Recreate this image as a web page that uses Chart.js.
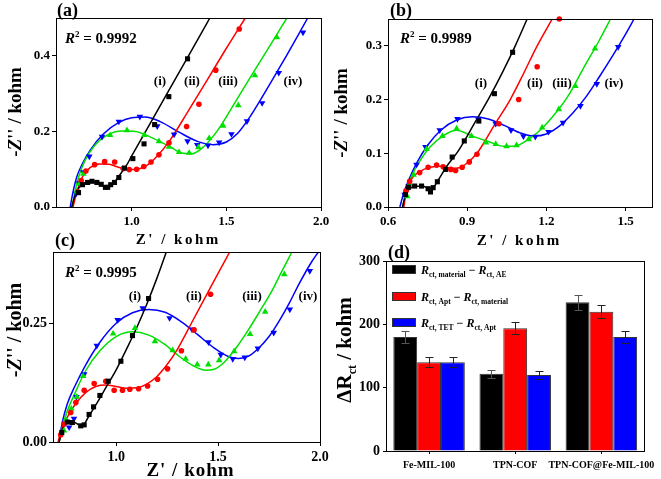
<!DOCTYPE html>
<html><head><meta charset="utf-8">
<script src="https://cdn.jsdelivr.net/npm/chart.js@4.4.0/dist/chart.umd.min.js"></script>
<style>
html,body{margin:0;padding:0;background:#fff;}
#wrap{position:relative;width:661px;height:479px;background:#fff;}
canvas{position:absolute;left:0;top:0;}
</style></head><body><div id="wrap">
<canvas id="ca" width="661" height="479"></canvas>
<canvas id="cb" width="661" height="479"></canvas>
<canvas id="cc" width="661" height="479"></canvas>
<canvas id="cd" width="661" height="479"></canvas>
</div>
<script>
// ---------- Panel (a) data ----------
const aPtsI = [[0.719,0.038],[0.740,0.059],[0.767,0.065],[0.790,0.068],[0.816,0.065],[0.839,0.060],[0.861,0.052],[0.873,0.052],[0.889,0.059],[0.909,0.065],[0.932,0.078],[0.962,0.103],[1.006,0.128],[1.065,0.167],[1.121,0.218],[1.196,0.292],[1.295,0.392]];
const aFitI = [[0.683,0],[0.70,0.03],[0.72,0.05],[0.75,0.063],[0.79,0.066],[0.83,0.060],[0.87,0.053],[0.90,0.060],[0.93,0.080],[0.97,0.108],[1.0,0.135],[1.1,0.223],[1.2,0.312],[1.3,0.40],[1.413,0.5]];
const aPtsII = [[0.715,0.04],[0.733,0.07],[0.758,0.095],[0.804,0.112],[0.857,0.12],[0.91,0.119],[0.955,0.102],[0.987,0.099],[1.026,0.1],[1.064,0.107],[1.102,0.119],[1.144,0.138],[1.197,0.17],[1.29,0.213],[1.355,0.272],[1.444,0.362],[1.568,0.471]];
const aFitII = [[0.69,0],[0.71,0.04],[0.74,0.08],[0.78,0.104],[0.83,0.114],[0.88,0.113],[0.93,0.105],[0.98,0.099],[1.03,0.1],[1.08,0.11],[1.13,0.132],[1.2,0.175],[1.3,0.255],[1.4,0.337],[1.5,0.42],[1.6,0.5]];
const aPtsIII = [[0.71,0.041],[0.724,0.062],[0.745,0.088],[0.886,0.19],[0.975,0.203],[1.066,0.19],[1.144,0.174],[1.197,0.159],[1.25,0.145],[1.304,0.143],[1.352,0.158],[1.409,0.182],[1.483,0.215],[1.563,0.269],[1.651,0.348],[1.767,0.449]];
const aFitIII = [[0.685,0],[0.70,0.04],[0.72,0.08],[0.75,0.12],[0.80,0.16],[0.87,0.19],[0.95,0.201],[1.02,0.2],[1.1,0.185],[1.2,0.16],[1.27,0.142],[1.32,0.141],[1.37,0.155],[1.45,0.2],[1.55,0.28],[1.65,0.362],[1.75,0.443],[1.82,0.5]];
const aPtsIV = [[0.706,0.035],[0.722,0.063],[0.745,0.092],[0.776,0.134],[0.843,0.186],[0.932,0.226],[1.043,0.239],[1.135,0.214],[1.224,0.192],[1.295,0.174],[1.346,0.164],[1.403,0.163],[1.462,0.171],[1.527,0.193],[1.609,0.227],[1.689,0.275],[1.777,0.355],[1.905,0.462]];
const aFitIV = [[0.675,0],[0.69,0.04],[0.71,0.08],[0.74,0.115],[0.78,0.15],[0.85,0.193],[0.93,0.223],[1.0,0.236],[1.07,0.238],[1.15,0.226],[1.25,0.198],[1.35,0.173],[1.43,0.165],[1.5,0.172],[1.56,0.195],[1.62,0.235],[1.7,0.3],[1.8,0.385],[1.93,0.5]];

// ---------- Panel (b) data ----------
const bPtsI = [[0.666,0.023],[0.678,0.037],[0.701,0.039],[0.727,0.039],[0.752,0.034],[0.761,0.028],[0.771,0.036],[0.787,0.047],[0.818,0.07],[0.843,0.093],[0.889,0.123],[0.944,0.16],[1.003,0.211],[1.072,0.288]];
const bFitI = [[0.655,0],[0.665,0.02],[0.68,0.033],[0.70,0.038],[0.73,0.039],[0.755,0.035],[0.77,0.036],[0.79,0.05],[0.82,0.074],[0.867,0.105],[0.93,0.158],[0.985,0.205],[1.035,0.252],[1.082,0.3],[1.127,0.35]];
const bPtsII = [[0.668,0.03],[0.682,0.048],[0.72,0.064],[0.752,0.074],[0.784,0.078],[0.809,0.075],[0.838,0.07],[0.856,0.068],[0.881,0.074],[0.908,0.084],[0.937,0.098],[1.02,0.155],[1.095,0.2],[1.165,0.261],[1.249,0.35]];
const bFitII = [[0.66,0],[0.67,0.03],[0.69,0.053],[0.72,0.066],[0.76,0.074],[0.80,0.076],[0.84,0.072],[0.87,0.073],[0.90,0.082],[0.937,0.1],[0.97,0.125],[1.0,0.15],[1.063,0.2],[1.115,0.25],[1.165,0.3],[1.222,0.35]];
const bPtsIII = [[0.673,0.02],[0.682,0.043],[0.697,0.06],[0.746,0.108],[0.806,0.132],[0.86,0.146],[0.916,0.132],[0.971,0.12],[1.008,0.117],[1.049,0.113],[1.087,0.115],[1.133,0.126],[1.184,0.148],[1.247,0.182],[1.31,0.225],[1.384,0.295]];
const bFitIII = [[0.655,0],[0.67,0.03],[0.69,0.058],[0.72,0.085],[0.76,0.112],[0.81,0.133],[0.86,0.143],[0.92,0.132],[0.98,0.122],[1.04,0.113],[1.08,0.113],[1.12,0.122],[1.17,0.14],[1.22,0.166],[1.28,0.205],[1.34,0.258],[1.40,0.31],[1.443,0.35]];
const bPtsIV = [[0.663,0.023],[0.678,0.039],[0.708,0.079],[0.742,0.112],[0.796,0.143],[0.863,0.164],[0.942,0.163],[1.008,0.155],[1.066,0.143],[1.113,0.132],[1.158,0.131],[1.208,0.14],[1.263,0.157],[1.329,0.188],[1.391,0.229],[1.472,0.298]];
const bFitIV = [[0.645,0],[0.66,0.027],[0.68,0.052],[0.71,0.083],[0.75,0.115],[0.80,0.143],[0.86,0.162],[0.92,0.168],[0.98,0.164],[1.04,0.152],[1.1,0.138],[1.15,0.132],[1.2,0.136],[1.25,0.151],[1.3,0.175],[1.35,0.205],[1.4,0.242],[1.45,0.281],[1.5,0.322],[1.532,0.35]];

// ---------- Panel (c) data ----------
const cPtsI = [[0.733,0.02],[0.761,0.042],[0.785,0.041],[0.826,0.034],[0.843,0.036],[0.867,0.058],[0.889,0.074],[0.92,0.098],[0.961,0.128],[1.023,0.17],[1.08,0.224],[1.159,0.302]];
const cFitI = [[0.72,0],[0.735,0.025],[0.76,0.04],[0.79,0.042],[0.82,0.036],[0.84,0.037],[0.86,0.05],[0.9,0.078],[0.95,0.115],[1.0,0.152],[1.05,0.195],[1.1,0.24],[1.15,0.29],[1.2,0.345],[1.246,0.4]];
const cPtsII = [[0.728,0.015],[0.744,0.038],[0.777,0.062],[0.802,0.083],[0.843,0.109],[0.892,0.123],[0.949,0.128],[0.99,0.109],[1.031,0.109],[1.067,0.111],[1.11,0.112],[1.154,0.118],[1.203,0.132],[1.252,0.154],[1.32,0.192],[1.382,0.236],[1.463,0.311]];
const cFitII = [[0.715,0],[0.73,0.025],[0.76,0.052],[0.80,0.08],[0.85,0.104],[0.9,0.117],[0.95,0.12],[1.0,0.117],[1.05,0.113],[1.1,0.114],[1.15,0.122],[1.2,0.138],[1.25,0.163],[1.3,0.195],[1.369,0.25],[1.45,0.315],[1.5,0.355],[1.557,0.4]];
const cPtsIII = [[0.744,0.024],[0.756,0.045],[0.78,0.07],[0.807,0.095],[0.838,0.139],[0.985,0.228],[1.092,0.24],[1.19,0.212],[1.277,0.193],[1.341,0.175],[1.398,0.163],[1.452,0.163],[1.505,0.172],[1.579,0.191],[1.657,0.227],[1.731,0.274],[1.825,0.353]];
const cFitIII = [[0.72,0],[0.735,0.03],[0.76,0.065],[0.80,0.105],[0.85,0.15],[0.92,0.192],[1.0,0.222],[1.08,0.232],[1.16,0.225],[1.24,0.205],[1.31,0.18],[1.38,0.16],[1.44,0.151],[1.48,0.153],[1.53,0.168],[1.6,0.205],[1.65,0.237],[1.7,0.272],[1.76,0.315],[1.81,0.357],[1.862,0.4]];
const cPtsIV = [[0.769,0.031],[0.793,0.049],[0.805,0.095],[0.843,0.143],[0.905,0.203],[1.007,0.257],[1.13,0.282],[1.262,0.261],[1.372,0.237],[1.453,0.21],[1.513,0.184],[1.572,0.175],[1.631,0.178],[1.695,0.197],[1.773,0.23],[1.852,0.279],[1.95,0.36]];
const cFitIV = [[0.72,0],[0.735,0.04],[0.76,0.08],[0.80,0.12],[0.85,0.162],[0.92,0.21],[1.0,0.25],[1.08,0.272],[1.16,0.279],[1.24,0.273],[1.32,0.253],[1.4,0.226],[1.48,0.198],[1.55,0.18],[1.6,0.176],[1.65,0.181],[1.7,0.198],[1.75,0.222],[1.8,0.255],[1.85,0.293],[1.9,0.335],[1.96,0.38],[1.992,0.4]];

// ---------- Panel (d) data ----------
const dCats = ['Fe-MIL-100','TPN-COF','TPN-COF@Fe-MIL-100'];
const dMatAE = [180,122,235];
const dMatAEErr = [9,6,12];
const dAptMat = [140,194,220];
const dAptMatErr = [8,10,10];
const dTetApt = [140,120,180];
const dTetAptErr = [8,6,9];

const r2Labels = ['0.9992','0.9989','0.9995'];
const curveLabels = ['(i)','(ii)','(iii)','(iv)'];

// ---------- styling ----------
const FONT = "'Liberation Serif','Times New Roman',serif";
const COL = ['#000000','#ff0000','#00e000','#0000ff'];
const W = 661, H = 479;

function rich(ctx, x, y, parts, align) {
  let total = 0;
  parts.forEach(p => { ctx.font = p[2] + ' ' + p[1] + 'px ' + FONT; total += ctx.measureText(p[0]).width; });
  let cx = align === 'center' ? x - total / 2 : x;
  ctx.textAlign = 'left';
  parts.forEach(p => {
    ctx.font = p[2] + ' ' + p[1] + 'px ' + FONT;
    ctx.fillText(p[0], cx, y + (p[3] || 0));
    cx += ctx.measureText(p[0]).width;
  });
}
function richRot(ctx, cx, cy, parts) {
  ctx.save(); ctx.translate(cx, cy); ctx.rotate(-Math.PI / 2);
  rich(ctx, 0, 0, parts, 'center'); ctx.restore();
}
function frame(chart) {
  const a = chart.chartArea, ctx = chart.ctx;
  ctx.save(); ctx.strokeStyle = '#000'; ctx.lineWidth = 1;
  ctx.strokeRect(Math.round(a.left) + 0.5, Math.round(a.top) + 0.5, Math.round(a.right - a.left), Math.round(a.bottom - a.top));
  ctx.restore();
}
function axisOpts(min, max, step, dec, size, pad, fitFn) {
  return {
    type: 'linear', min: min, max: max,
    ticks: { stepSize: step, includeBounds: false, autoSkip: false, maxRotation: 0, color: '#000', padding: pad,
      font: { family: FONT, size: size, weight: 'bold' }, callback: v => Number(v).toFixed(dec) },
    grid: { display: true, drawOnChartArea: false, drawTicks: true, tickLength: 4, color: '#000', tickWidth: 1 },
    border: { display: true, color: '#000', width: 1 },
    afterFit: fitFn
  };
}
const YW = 40, XH = 22;
function nyquist(id, area, xr, yr, sets, tsize, deco) {
  const ds = [];
  const styles = [['rect', 0, 3.6], ['circle', 0, 2.8], ['triangle', 0, 3.8], ['triangle', 180, 3.8]];
  sets.forEach((s, i) => {
    ds.push({ data: s[0].map(p => ({ x: p[0], y: p[1] })), showLine: false, pointStyle: styles[i][0], rotation: styles[i][1],
      pointRadius: styles[i][2], pointBackgroundColor: COL[i], pointBorderColor: COL[i], pointBorderWidth: 0, order: 0, clip: 4 });
    ds.push({ data: s[1].map(p => ({ x: p[0], y: p[1] })), showLine: true, pointRadius: 0, borderColor: COL[i], borderWidth: 1.5,
      cubicInterpolationMode: 'monotone', fill: false, order: 1 });
  });
  return new Chart(document.getElementById(id), {
    type: 'scatter',
    data: { datasets: ds },
    options: {
      responsive: false, animation: false, devicePixelRatio: 1,
      layout: { padding: { left: area[0] - YW, top: area[1], right: W - area[2], bottom: H - area[3] - XH } },
      plugins: { legend: { display: false }, tooltip: { enabled: false } },
      scales: {
        x: axisOpts(xr[0], xr[1], xr[2], xr[3], tsize, 3, s => { s.height = XH; }),
        y: axisOpts(yr[0], yr[1], yr[2], yr[3], tsize, 2, s => { s.width = YW; })
      }
    },
    plugins: [{ id: 'deco_' + id, afterDraw: chart => { frame(chart); const ctx = chart.ctx; ctx.save(); ctx.fillStyle = '#000'; ctx.textBaseline = 'alphabetic'; deco(ctx, chart); ctx.restore(); } }]
  });
}
function zTitle(size) { return [['-', size, 'bold'], ['Z', size, 'italic bold'], ["''", size, 'bold'], [' / kohm', size, 'bold']]; }
function r2(ctx, x, y, val) { rich(ctx, x, y, [['R', 15, 'italic bold'], ['2', 9, 'bold', -6], [' = ' + val, 15, 'bold']], 'left'); }
function curveTags(ctx, xs, y) {
  ctx.font = 'bold 13px ' + FONT; ctx.textAlign = 'center';
  curveLabels.forEach((t, i) => ctx.fillText(t, xs[i], y));
  ctx.textAlign = 'left';
}
function spaced(ctx, text, cx, cy, size, sp) {
  ctx.font = 'bold ' + size + 'px ' + FONT; ctx.letterSpacing = sp + 'px';
  const w = ctx.measureText(text).width - sp; ctx.textAlign = 'left';
  ctx.fillText(text, cx - w / 2, cy); ctx.letterSpacing = '0px';
}

nyquist('ca', [56, 18, 321, 207], [0.6, 2.0, 0.5, 1], [0, 0.5, 0.2, 1],
  [[aPtsI, aFitI], [aPtsII, aFitII], [aPtsIII, aFitIII], [aPtsIV, aFitIV]], 13,
  (ctx) => {
    ctx.font = 'bold 18px ' + FONT; ctx.fillText('(a)', 57, 16);
    r2(ctx, 65, 43, r2Labels[0]);
    curveTags(ctx, [160, 192, 228, 293], 85);
    richRot(ctx, 21, 112, zTitle(19));
    spaced(ctx, "Z' / kohm", 177, 244, 15, 2.5);
  });

nyquist('cb', [388, 19, 652, 207], [0.6, 1.6, 0.3, 1], [0, 0.35, 0.1, 1],
  [[bPtsI, bFitI], [bPtsII, bFitII], [bPtsIII, bFitIII], [bPtsIV, bFitIV]], 13,
  (ctx) => {
    ctx.font = 'bold 18px ' + FONT; ctx.fillText('(b)', 390, 16);
    r2(ctx, 400, 43, r2Labels[1]);
    curveTags(ctx, [481, 535, 562, 614], 87);
    richRot(ctx, 347, 113, zTitle(19));
    spaced(ctx, "Z' / kohm", 518, 245, 15, 2.5);
  });

nyquist('cc', [53, 252, 320, 442], [0.69, 2.0, 0.5, 1], [0, 0.4, 0.25, 2],
  [[cPtsI, cFitI], [cPtsII, cFitII], [cPtsIII, cFitIII], [cPtsIV, cFitIV]], 14,
  (ctx) => {
    ctx.font = 'bold 18px ' + FONT; ctx.fillText('(c)', 55, 246);
    r2(ctx, 65, 277, r2Labels[2]);
    curveTags(ctx, [135, 194, 252, 308], 300);
    richRot(ctx, 21, 330, zTitle(20));
    spaced(ctx, "Z' / kohm", 190, 476, 19, 1);
  });

// ---------- Panel (d): bar chart ----------
const dSeries = [
  { data: dMatAE, err: dMatAEErr, color: '#000000', sub1: 'ct, material', sub2: 'ct, AE' },
  { data: dAptMat, err: dAptMatErr, color: '#ff0000', sub1: 'ct, Apt', sub2: 'ct, material' },
  { data: dTetApt, err: dTetAptErr, color: '#0000ff', sub1: 'ct, TET', sub2: 'ct, Apt' }
];
const dArea = [386, 261, 651, 451];
new Chart(document.getElementById('cd'), {
  type: 'bar',
  data: {
    labels: dCats,
    datasets: dSeries.map(s => ({ data: s.data, backgroundColor: s.color, borderColor: '#333', borderWidth: 1,
      categoryPercentage: 0.83, barPercentage: 1.0 }))
  },
  options: {
    responsive: false, animation: false, devicePixelRatio: 1,
    layout: { padding: { left: dArea[0] - YW, top: dArea[1], right: W - dArea[2], bottom: H - dArea[3] - XH } },
    plugins: { legend: { display: false }, tooltip: { enabled: false } },
    scales: {
      x: { type: 'category', offset: true,
        ticks: { color: '#000', padding: 5, autoSkip: false, maxRotation: 0, font: { family: FONT, size: 10, weight: 'bold' } },
        grid: { display: true, drawOnChartArea: false, drawTicks: true, tickLength: 3, color: '#000', offset: false },
        border: { display: true, color: '#000', width: 1 },
        afterFit: s => { s.height = XH; } },
      y: { type: 'linear', min: 0, max: 300,
        ticks: { stepSize: 100, color: '#000', padding: 3, font: { family: FONT, size: 14, weight: 'bold' } },
        grid: { display: true, drawOnChartArea: false, drawTicks: true, tickLength: 3, color: '#000' },
        border: { display: true, color: '#000', width: 1 },
        afterFit: s => { s.width = YW; } }
    }
  },
  plugins: [{ id: 'deco_d', afterDraw: chart => {
    frame(chart);
    const ctx = chart.ctx, ys = chart.scales.y;
    ctx.save();
    // error bars
    ctx.lineWidth = 1;
    dSeries.forEach((s, i) => {
      chart.getDatasetMeta(i).data.forEach((bar, j) => {
        const x = Math.round(bar.x) + 0.5;
        const yt = Math.round(ys.getPixelForValue(s.data[j] + s.err[j])) + 0.5;
        const yb = Math.round(ys.getPixelForValue(s.data[j] - s.err[j])) + 0.5;
        ctx.strokeStyle = i === 0 ? '#555' : '#222';
        ctx.beginPath(); ctx.moveTo(x, yt); ctx.lineTo(x, yb);
        ctx.moveTo(x - 4, yt); ctx.lineTo(x + 4, yt);
        ctx.moveTo(x - 4, yb); ctx.lineTo(x + 4, yb); ctx.stroke();
      });
    });
    // legend
    const rows = [265, 292, 318];
    dSeries.forEach((s, i) => {
      ctx.fillStyle = s.color; ctx.fillRect(392, rows[i], 24, 9);
      ctx.strokeStyle = '#333'; ctx.strokeRect(392.5, rows[i] + 0.5, 23, 8);
      ctx.fillStyle = '#000';
      rich(ctx, 421, rows[i] + 9, [['R', 12, 'italic bold'], [s.sub1, 7.5, 'bold', 2.5], [' \u2212 ', 12, 'bold'], ['R', 12, 'italic bold'], [s.sub2, 7.5, 'bold', 2.5]], 'left');
    });
    ctx.fillStyle = '#000';
    ctx.font = 'bold 18px ' + FONT; ctx.fillText('(d)', 388, 258);
    richRot(ctx, 351, 350, [['\u0394R', 21, 'bold'], ['ct', 12, 'bold', 5], [' / kohm', 21, 'bold']]);
    ctx.restore();
  } }]
});
</script>
</body></html>
